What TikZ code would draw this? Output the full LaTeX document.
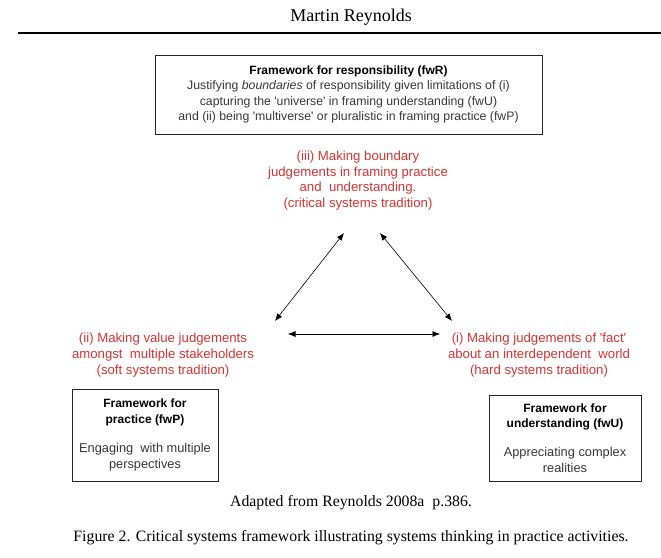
\documentclass[tikz,border=0pt]{standalone}
\usepackage{fontspec}
\setmainfont{Liberation Serif}
\newfontfamily\arialfont{Liberation Sans}
\usepackage{xcolor}
\usetikzlibrary{arrows.meta}
\definecolor{judgeRed}{RGB}{218,50,50}
\definecolor{bodyGray}{RGB}{55,55,55}
\newcommand{\bodytxt}[1]{\textcolor{bodyGray}{#1}}
\tikzstyle{tsArial} = [
    font=\arialfont\fontsize{12.3}{15.6}\selectfont
]
\tikzstyle{tsRedText} = [
    font=\arialfont\fontsize{13.2}{15.8}\selectfont,
    text=judgeRed,
    align=center
]
\tikzstyle{tsFrameBox} = [
    rectangle,
    tsArial,
    text=black,
    align=center,
    draw=black!85,
    line width=0.6pt,
    inner sep=0pt]
\tikzstyle{tsSmallBox} = [
    tsFrameBox,
    font=\arialfont\fontsize{12.8}{15.8}\selectfont
]
\tikzstyle{tsLink} = [
    {Latex[length=7.5pt,width=6pt]}-{Latex[length=7.5pt,width=6pt]},
    line width=0.6pt
]

\begin{document}
\begin{tikzpicture}[x=1pt, y=-1pt]

    \useasboundingbox (0,0) rectangle (661,557);

    % header
    \node[font=\fontsize{18}{20}\selectfont] (author) at (351,17) {Martin Reynolds};
    \coordinate (ruleL) at (18,33);
    \coordinate (ruleR) at (661,33);
    \draw[line width=2pt] (ruleL) -- (ruleR);

    \node[  tsFrameBox,
            minimum width=387,
            minimum height=79] (fwR) at (348.5,94.5)
        {{\fontsize{12}{15.6}\selectfont\bfseries Framework for responsibility (fwR)}\\
         \bodytxt{Justifying \textit{boundaries} of responsibility given limitations of (i)}\\
         \bodytxt{capturing the \textquotesingle universe\textquotesingle\ in framing understanding (fwU)}\\
         \bodytxt{and (ii) being \textquotesingle multiverse\textquotesingle\ or pluralistic in framing practice (fwP)}};

    \node[tsRedText] (critical) at (358,180.5)
        {(iii) Making boundary\\
         judgements in framing practice\\
         and~ understanding.\\
         (critical systems tradition)};

    \node[tsRedText] (soft) at (163,355)
        {(ii) Making value judgements\\
         amongst~ multiple stakeholders\\
         (soft systems tradition)};

    \node[tsRedText] (hard) at (539,355)
        {(i) Making judgements of 'fact'\\
         about an interdependent~ world\\
         (hard systems tradition)};

    \coordinate (critL) at (344,233);
    \coordinate (critR) at (380,233);
    \coordinate (softT) at (275,321);
    \coordinate (hardT) at (452,321);
    \coordinate (softR) at (288,334);
    \coordinate (hardL) at (440,334);

    \draw[tsLink] (critL) -- (softT);
    \draw[tsLink] (critR) -- (hardT);
    \draw[tsLink] (softR) -- (hardL);

    \node[  tsSmallBox,
            minimum width=146,
            minimum height=92] (fwP) at (145,435)
        {{\fontsize{12}{15.8}\selectfont\bfseries Framework for}\\
         {\fontsize{12}{15.8}\selectfont\bfseries practice (fwP)}\\[13pt]
         \bodytxt{Engaging~ with multiple}\\
         \bodytxt{perspectives}};

    \node[  tsSmallBox,
            minimum width=152,
            minimum height=86] (fwU) at (565,438)
        {{\fontsize{12}{15.8}\selectfont\bfseries Framework for}\\
         {\fontsize{12}{15.8}\selectfont\bfseries understanding (fwU)}\\[13pt]
         \bodytxt{Appreciating complex}\\
         \bodytxt{realities}};

    % captions
    \node[font=\fontsize{15.8}{18}\selectfont] (source) at (351,503) {Adapted from Reynolds 2008a~ p.386.};
    \node[font=\fontsize{15.8}{18}\selectfont] (caption) at (351,538)
        {Figure 2. Critical systems framework illustrating systems thinking in practice activities.};

\end{tikzpicture}
\end{document}
